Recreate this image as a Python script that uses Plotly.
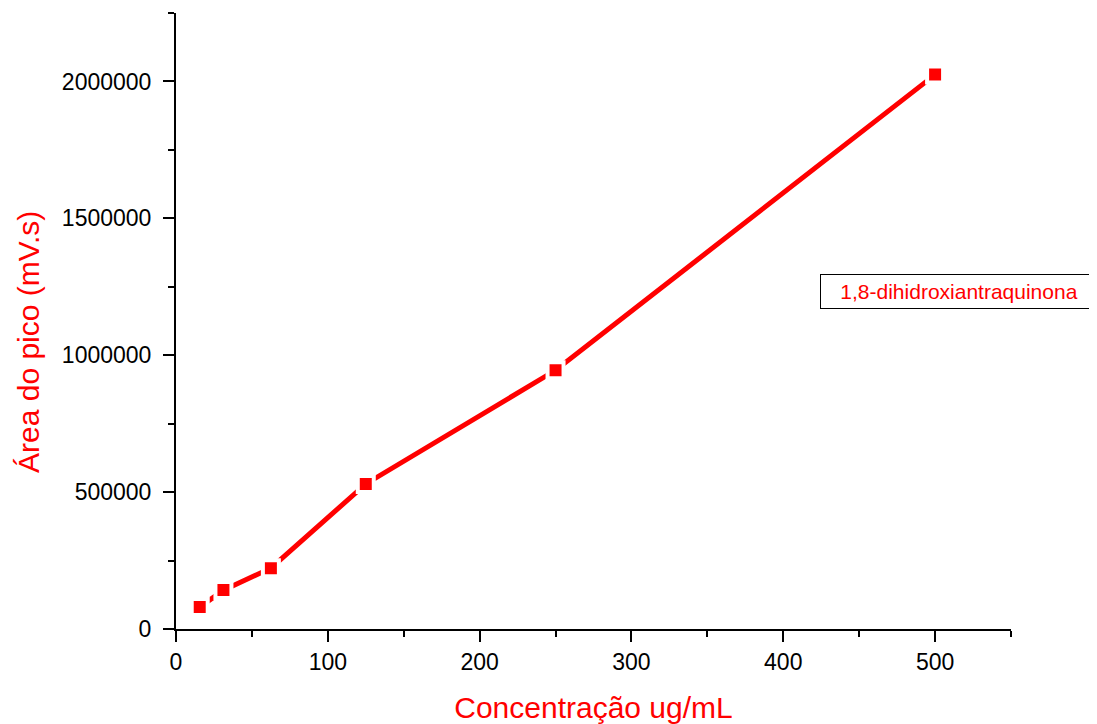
import plotly.graph_objects as go

conc = [15.625, 31.25, 62.5, 125, 250, 500]
area = [80000, 142000, 222000, 530000, 945000, 2025000]

x_ticks = [0, 100, 200, 300, 400, 500]
y_ticks = [0, 500000, 1000000, 1500000, 2000000]
series_name = "1,8-dihidroxiantraquinona"

fig = go.Figure()
fig.add_trace(go.Scatter(
    x=conc, y=area, mode="lines+markers", name=series_name,
    line=dict(color="#ff0000", width=5),
    marker=dict(symbol="square", size=16, color="#ff0000",
                line=dict(color="white", width=4)),
    showlegend=False,
))

axis_common = dict(
    showline=True, linecolor="black", linewidth=2,
    ticks="outside", ticklen=11, tickwidth=2, tickcolor="black",
    showgrid=False, zeroline=False, mirror=False,
    tickfont=dict(family="Liberation Sans, Arial", size=23, color="black"),
)

fig.update_xaxes(
    range=[0, 550], tickvals=x_ticks, ticktext=[str(v) for v in x_ticks],
    minor=dict(ticks="outside", ticklen=6, tickwidth=2, tickcolor="black", dtick=50),
    title=dict(text="Concentração ug/mL", standoff=23,
               font=dict(family="Liberation Sans, Arial", size=30, color="#ff0000")),
    **axis_common,
)
fig.update_yaxes(
    range=[0, 2250000], tickvals=y_ticks, ticktext=[str(v) for v in y_ticks],
    minor=dict(ticks="outside", ticklen=6, tickwidth=2, tickcolor="black", dtick=250000),
    ticklabelstandoff=7,
    **axis_common,
)

# y-axis title as rotated annotation (sits slightly below the plot centre)
fig.add_annotation(
    xref="paper", yref="paper", x=(27 - 175) / (1010 - 175), y=(628 - 341) / (628 - 12),
    text="Área do pico (mV.s)", showarrow=False, textangle=-90,
    font=dict(family="Liberation Sans, Arial", size=30, color="#ff0000"),
    xanchor="center", yanchor="middle",
)

fig.add_annotation(
    xref="paper", yref="paper", x=(958 - 175) / (1010 - 175), y=(628 - 290) / (628 - 12),
    text=series_name, showarrow=False,
    font=dict(family="Liberation Sans, Arial", size=21, color="#ff0000"),
    bordercolor="black", borderwidth=1, borderpad=5, bgcolor="white",
    width=266, xanchor="center", yanchor="middle",
)

fig.update_layout(
    width=1097, height=724,
    margin=dict(l=168, r=94, t=5, b=103),
    plot_bgcolor="white", paper_bgcolor="white",
    font=dict(family="Liberation Sans, Arial"),
)

fig.write_html("out.html")
